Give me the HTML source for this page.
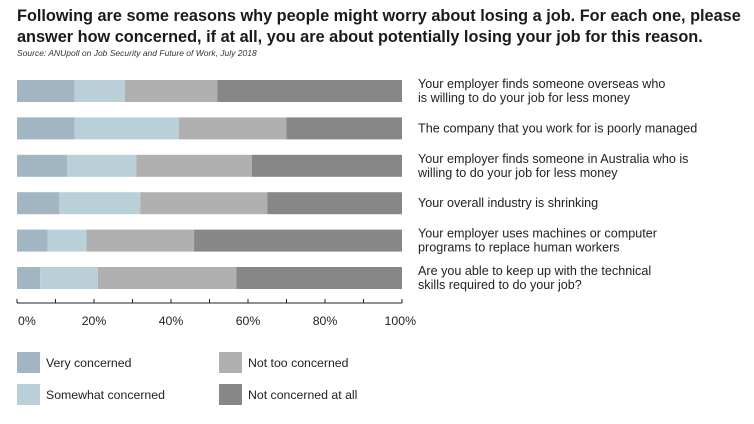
<!DOCTYPE html>
<html><head><meta charset="utf-8"><style>
html,body{margin:0;padding:0;background:#fff;width:754px;height:424px;overflow:hidden}
svg{display:block;font-family:"Liberation Sans",Arial,sans-serif}
</style></head><body>
<svg id="chart" width="754" height="424" viewBox="0 0 754 424">
<text x="17" y="21" font-size="16.3" font-weight="bold" fill="#1a1a1a">Following are some reasons why people might worry about losing a job. For each one, please</text>
<text x="17" y="42" font-size="16.3" font-weight="bold" fill="#1a1a1a">answer how concerned, if at all, you are about potentially losing your job for this reason.</text>
<text x="17" y="56" font-size="8.5" font-style="italic" fill="#333">Source: ANUpoll on Job Security and Future of Work, July 2018</text>
<g id="bars"></g>
<g id="labels"></g>
<g id="axis"></g>
<g id="legend"></g>
</svg>
<script>
const categories = [
  ["Your employer finds someone overseas who","is willing to do your job for less money"],
  ["The company that you work for is poorly managed"],
  ["Your employer finds someone in Australia who is","willing to do your job for less money"],
  ["Your overall industry is shrinking"],
  ["Your employer uses machines or computer","programs to replace human workers"],
  ["Are you able to keep up with the technical","skills required to do your job?"]
];
const veryConcerned = [15, 15, 13, 11, 8, 6];
const somewhatConcerned = [13, 27, 18, 21, 10, 15];
const notTooConcerned = [24, 28, 30, 33, 28, 36];
const notConcernedAtAll = [48, 30, 39, 35, 54, 43];
const seriesNames = ["Very concerned","Somewhat concerned","Not too concerned","Not concerned at all"];
const tickValues = [0, 20, 40, 60, 80, 100];
const tickLabels = ["0%","20%","40%","60%","80%","100%"];

const NS = "http://www.w3.org/2000/svg";
const colors = ["#a1b5c3","#bad0d9","#b0b0b0","#878787"];
const X0 = 17, X1 = 402, Y0 = 80, STEP = 37.4, BH = 22;
const xScale = v => X0 + (X1 - X0) * v / 100;
const yScale = i => Y0 + i * STEP;
function mk(tag, attrs, parent){const e=document.createElementNS(NS,tag);for(const k in attrs)e.setAttribute(k,attrs[k]);parent.appendChild(e);return e;}

const series = [veryConcerned, somewhatConcerned, notTooConcerned, notConcernedAtAll];
const bars = document.getElementById('bars');
categories.forEach((c, i) => {
  let cum = 0;
  series.forEach((s, j) => {
    const r = mk('rect', {x: xScale(cum), y: yScale(i), width: xScale(cum + s[i]) - xScale(cum), height: BH, fill: colors[j]}, bars);
    
    
    cum += s[i];
  });
});

const labels = document.getElementById('labels');
categories.forEach((lines, i) => {
  const t = mk('text', {x: 418, 'font-size': 12.6, fill: '#222'}, labels);
  
  
  const base = lines.length === 2 ? yScale(i) + 8 : yScale(i) + 15;
  lines.forEach((ln, k) => {
    const ts = mk('tspan', {x: 418, y: base + k * 14}, t);
    ts.textContent = ln;
  });
});

const axis = document.getElementById('axis');
const AY = 303;
mk('line', {x1: X0, x2: X1, y1: AY, y2: AY, stroke: '#222', 'stroke-width': 1}, axis);
for (let v = 0; v <= 100; v += 10) {
  const tk = mk('line', {x1: xScale(v), x2: xScale(v), y1: AY - 4, y2: AY, stroke: '#222', 'stroke-width': 1}, axis);
  
  
}
tickValues.forEach((v, i) => {
  const last = i === tickValues.length - 1;
  const anchor = i === 0 ? 'start' : (last ? 'end' : 'middle');
  const t = mk('text', {x: i === 0 ? xScale(v) + 1 : xScale(v) + (last ? 14 : 0), y: 325, 'text-anchor': anchor, 'font-size': 12.3, fill: '#222'}, axis);
  t.textContent = tickLabels[i];
  
  
});

const legend = document.getElementById('legend');
const lpos = [[17,352],[17,384],[219,352],[219,384]];
seriesNames.forEach((n, j) => {
  const g = mk('g', {}, legend);
  
  
  mk('rect', {x: lpos[j][0], y: lpos[j][1], width: 23, height: 21, fill: colors[j]}, g);
  const t = mk('text', {x: lpos[j][0] + 29, y: lpos[j][1] + 15, 'font-size': 12.3, fill: '#222'}, g);
  t.textContent = n;
});
</script>
</body></html>
